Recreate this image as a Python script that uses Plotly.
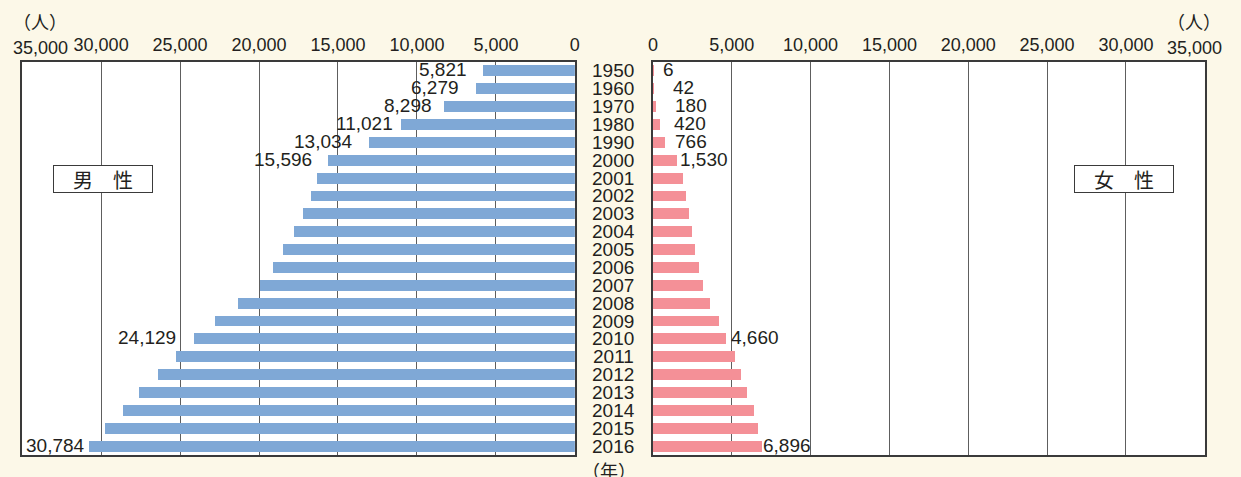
import plotly.graph_objects as go

# ---------------- data ----------------
years = ["1950", "1960", "1970", "1980", "1990", "2000", "2001", "2002", "2003",
         "2004", "2005", "2006", "2007", "2008", "2009", "2010", "2011", "2012",
         "2013", "2014", "2015", "2016"]
male = [5821, 6279, 8298, 11021, 13034, 15596, 16350, 16730, 17190, 17750, 18490,
        19110, 19910, 21350, 22750, 24129, 25280, 26410, 27600, 28600, 29740, 30784]
female = [6, 42, 180, 420, 766, 1530, 1880, 2070, 2300, 2470, 2660, 2890, 3190,
          3630, 4180, 4660, 5170, 5610, 5970, 6390, 6670, 6896]
tick_vals = [0, 5000, 10000, 15000, 20000, 25000, 30000, 35000]
labeled_years = ["1950", "1960", "1970", "1980", "1990", "2000", "2010", "2016"]

# ---------------- style ----------------
NUM_FONT = "Liberation Sans, Arial, sans-serif"
CJK_FONT = "Noto Sans CJK JP, sans-serif"
TXT = "#231f20"
BG = "#fcf8e8"
W, H = 1241, 477
PT, PB = 62, 455           # plot top / bottom in px
male_shift = {"1950": -14, "1960": -15, "1970": -10, "1980": -6, "1990": -14,
              "2000": -15, "2010": -16, "2016": -2}
female_shift = {"1950": 8, "1960": 17, "1970": 17, "1980": 12, "1990": 8,
                "2000": 1, "2010": 3, "2016": -1}

def px_y(py):
    return (PB - py) / (PB - PT)

idx = list(range(len(years)))

fig = go.Figure()
fig.add_trace(go.Bar(y=idx, x=male, orientation="h", xaxis="x", yaxis="y",
                     marker=dict(color="#7fa8d6", line=dict(width=0)), width=0.61,
                     showlegend=False, hoverinfo="skip"))
fig.add_trace(go.Bar(y=idx, x=female, orientation="h", xaxis="x2", yaxis="y2",
                     marker=dict(color="#f49097", line=dict(width=0)), width=0.61,
                     showlegend=False, hoverinfo="skip"))

tick_text = [f"{v:,}" if v != 35000 else "" for v in tick_vals]
common_x = dict(side="top", tickvals=tick_vals, ticktext=tick_text, ticks="",
                showgrid=True, gridcolor="#5e5e5e", gridwidth=1, zeroline=False,
                showline=True, mirror=True, linecolor="#3a3a3a", linewidth=1.5,
                tickfont=dict(family=NUM_FONT, size=18, color=TXT),
                ticklabelstandoff=2, fixedrange=True)
common_y = dict(range=[21.5, -0.5], autorange=False, showticklabels=False, ticks="",
                showgrid=False, zeroline=False, showline=True, mirror=True,
                linecolor="#3a3a3a", linewidth=1.5, fixedrange=True)

annotations = []
# year labels
for i, yr in enumerate(years):
    annotations.append(dict(x=613 / W, xref="paper", y=i, yref="y", text=yr,
                            showarrow=False, xanchor="center", yanchor="middle",
                            font=dict(family=NUM_FONT, size=19, color=TXT)))
# value labels
for i, yr in enumerate(years):
    if yr in labeled_years:
        annotations.append(dict(x=male[i], xref="x", y=i, yref="y", text=f"{male[i]:,}",
                                showarrow=False, xanchor="right", yanchor="middle",
                                xshift=male_shift[yr], yshift=1,
                                font=dict(family=NUM_FONT, size=19, color=TXT)))
        annotations.append(dict(x=female[i], xref="x2", y=i, yref="y2", text=f"{female[i]:,}",
                                showarrow=False, xanchor="left", yanchor="middle",
                                xshift=female_shift[yr], yshift=1,
                                font=dict(family=NUM_FONT, size=19, color=TXT)))
# 35,000 end ticks
annotations.append(dict(x=35000, xref="x", y=px_y(47.5), yref="paper", text="35,000",
                        showarrow=False, xanchor="center", yanchor="middle", xshift=18,
                        font=dict(family=NUM_FONT, size=18, color=TXT)))
annotations.append(dict(x=35000, xref="x2", y=px_y(47.5), yref="paper", text="35,000",
                        showarrow=False, xanchor="center", yanchor="middle", xshift=-10,
                        font=dict(family=NUM_FONT, size=18, color=TXT)))
# units
for xp, t in [(35 / W, "（人）"), (1199 / W, "（人）")]:
    annotations.append(dict(x=xp, xref="paper", y=px_y(21), yref="paper", text=t,
                            showarrow=False, xanchor="center", yanchor="middle",
                            font=dict(family=CJK_FONT, size=18, color=TXT)))
annotations.append(dict(x=609 / W, xref="paper", y=px_y(470), yref="paper", text="（年）",
                        showarrow=False, xanchor="center", yanchor="middle",
                        font=dict(family=CJK_FONT, size=18, color=TXT)))
# sex boxes
for xp, t in [(98.5 / W, "男　性"), (1128.4 / W, "女　性")]:
    annotations.append(dict(x=xp, xref="paper", y=px_y(178.5), yref="paper", text=t,
                            showarrow=False, xanchor="center", yanchor="middle",
                            width=96, height=24, borderpad=1, bordercolor="#3a3a3a",
                            borderwidth=1, bgcolor="white",
                            font=dict(family=CJK_FONT, size=20, color=TXT)))

fig.update_layout(
    width=W, height=H,
    margin=dict(l=0, r=0, t=PT, b=H - PB, pad=0),
    paper_bgcolor=BG, plot_bgcolor="white",
    bargap=0,
    xaxis=dict(domain=[17.3 / W, 574.5 / W], range=[35000, 0], autorange=False,
               anchor="y", **common_x),
    xaxis2=dict(domain=[653.2 / W, 1209.5 / W], range=[0, 35000], autorange=False,
                anchor="y2", **common_x),
    yaxis=dict(anchor="x", **common_y),
    yaxis2=dict(anchor="x2", matches="y", **common_y),
    annotations=annotations,
)

fig.write_html("out.html", config={"displayModeBar": False},
               post_script="document.body.style.margin='0';"
                           "document.body.style.background='" + BG + "';")
